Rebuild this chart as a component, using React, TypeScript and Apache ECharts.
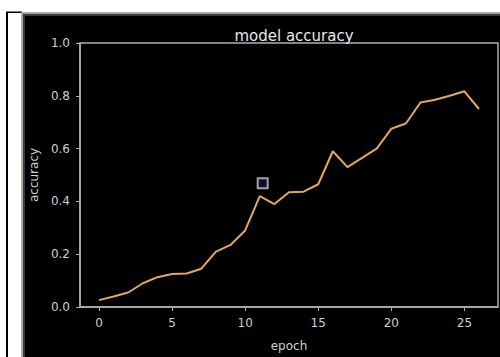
import React, { useEffect, useRef } from "react";
import * as echarts from "echarts";

const epochs = [0, 1, 2, 3, 4, 5, 6, 7, 8, 9, 10, 11, 12, 13, 14, 15, 16, 17, 18, 19, 20, 21, 22, 23, 24, 25, 26];
const accuracy = [0.026, 0.04, 0.055, 0.09, 0.113, 0.125, 0.127, 0.145, 0.21, 0.235, 0.29, 0.42, 0.39, 0.435, 0.437, 0.465, 0.59, 0.53, 0.565, 0.6, 0.675, 0.695, 0.775, 0.785, 0.8, 0.817, 0.75];
const cursorMark = [[11.2, 0.469]];
const xTicks = [0, 5, 10, 15, 20, 25];
const titleText = "model accuracy";
const xName = "epoch";
const yName = "accuracy";

export default function App() {
  const ref = useRef<HTMLDivElement>(null);
  useEffect(() => {
    if (!ref.current) return;
    const chart = echarts.init(ref.current, null, { renderer: "svg" });
    const font = "DejaVu Sans";
    chart.setOption({
      animation: false,
      backgroundColor: "#ffffff",
      graphic: [
        { type: "rect", z: -10, shape: { x: 6, y: 12, width: 2, height: 345 }, style: { fill: "#000" } },
        { type: "rect", z: -10, shape: { x: 6, y: 11.5, width: 16, height: 1.5 }, style: { fill: "#000" } },
        { type: "rect", z: -10, shape: { x: 21, y: 12, width: 479, height: 345 }, style: { fill: "#a8a8a8" } },
        { type: "rect", z: -9, shape: { x: 23, y: 14, width: 477, height: 343 }, style: { fill: "#3a3a3a" } },
        { type: "rect", z: -8, shape: { x: 25, y: 16, width: 475, height: 341 }, style: { fill: "#000" } },
      ],
      title: {
        text: titleText,
        left: 289,
        textAlign: "center",
        top: 23,
        textStyle: { color: "#e8e8e8", fontSize: 15, fontWeight: "normal", fontFamily: font },
      },
      grid: {
        left: 80,
        top: 43,
        right: 2,
        bottom: 41,
        show: true,
        borderColor: "#b0b0b0",
        borderWidth: 1.5,
        backgroundColor: "transparent",
      },
      xAxis: {
        type: "value",
        min: -1.3,
        max: 27.3,
        name: xName,
        nameLocation: "middle",
        nameGap: 33,
        nameTextStyle: { color: "#cfcfcf", fontSize: 12, fontFamily: font },
        axisLine: { show: true, onZero: false, lineStyle: { color: "#b0b0b0", width: 1.5 } },
        axisTick: { show: true, length: 4, customValues: xTicks, lineStyle: { color: "#b0b0b0" } },
        axisLabel: { color: "#cfcfcf", fontSize: 12, fontFamily: font, margin: 10, customValues: xTicks },
        splitLine: { show: false },
      },
      yAxis: {
        type: "value",
        min: 0,
        max: 1,
        interval: 0.2,
        name: yName,
        nameLocation: "middle",
        nameGap: 38,
        nameTextStyle: { color: "#cfcfcf", fontSize: 12, fontFamily: font },
        axisLine: { show: true, onZero: false, lineStyle: { color: "#b0b0b0", width: 1.5 } },
        axisTick: { show: true, length: 4, lineStyle: { color: "#b0b0b0" } },
        axisLabel: {
          color: "#cfcfcf",
          fontSize: 12,
          fontFamily: font,
          margin: 10,
          formatter: (v: number) => v.toFixed(1),
        },
        splitLine: { show: false },
      },
      series: [
        {
          type: "line",
          data: epochs.map((e, i) => [e, accuracy[i]]),
          showSymbol: false,
          lineStyle: { color: "#e2a85c", width: 2 },
        },
        {
          type: "scatter",
          data: cursorMark,
          symbol: "rect",
          symbolSize: 10,
          itemStyle: { color: "#14142e", borderColor: "#c4c4dc", borderWidth: 2 },
        },
      ],
    });
    return () => chart.dispose();
  }, []);
  return (
    <div
      ref={ref}
      style={{ position: "fixed", left: 0, top: 0, width: 500, height: 357 }}
    />
  );
}
